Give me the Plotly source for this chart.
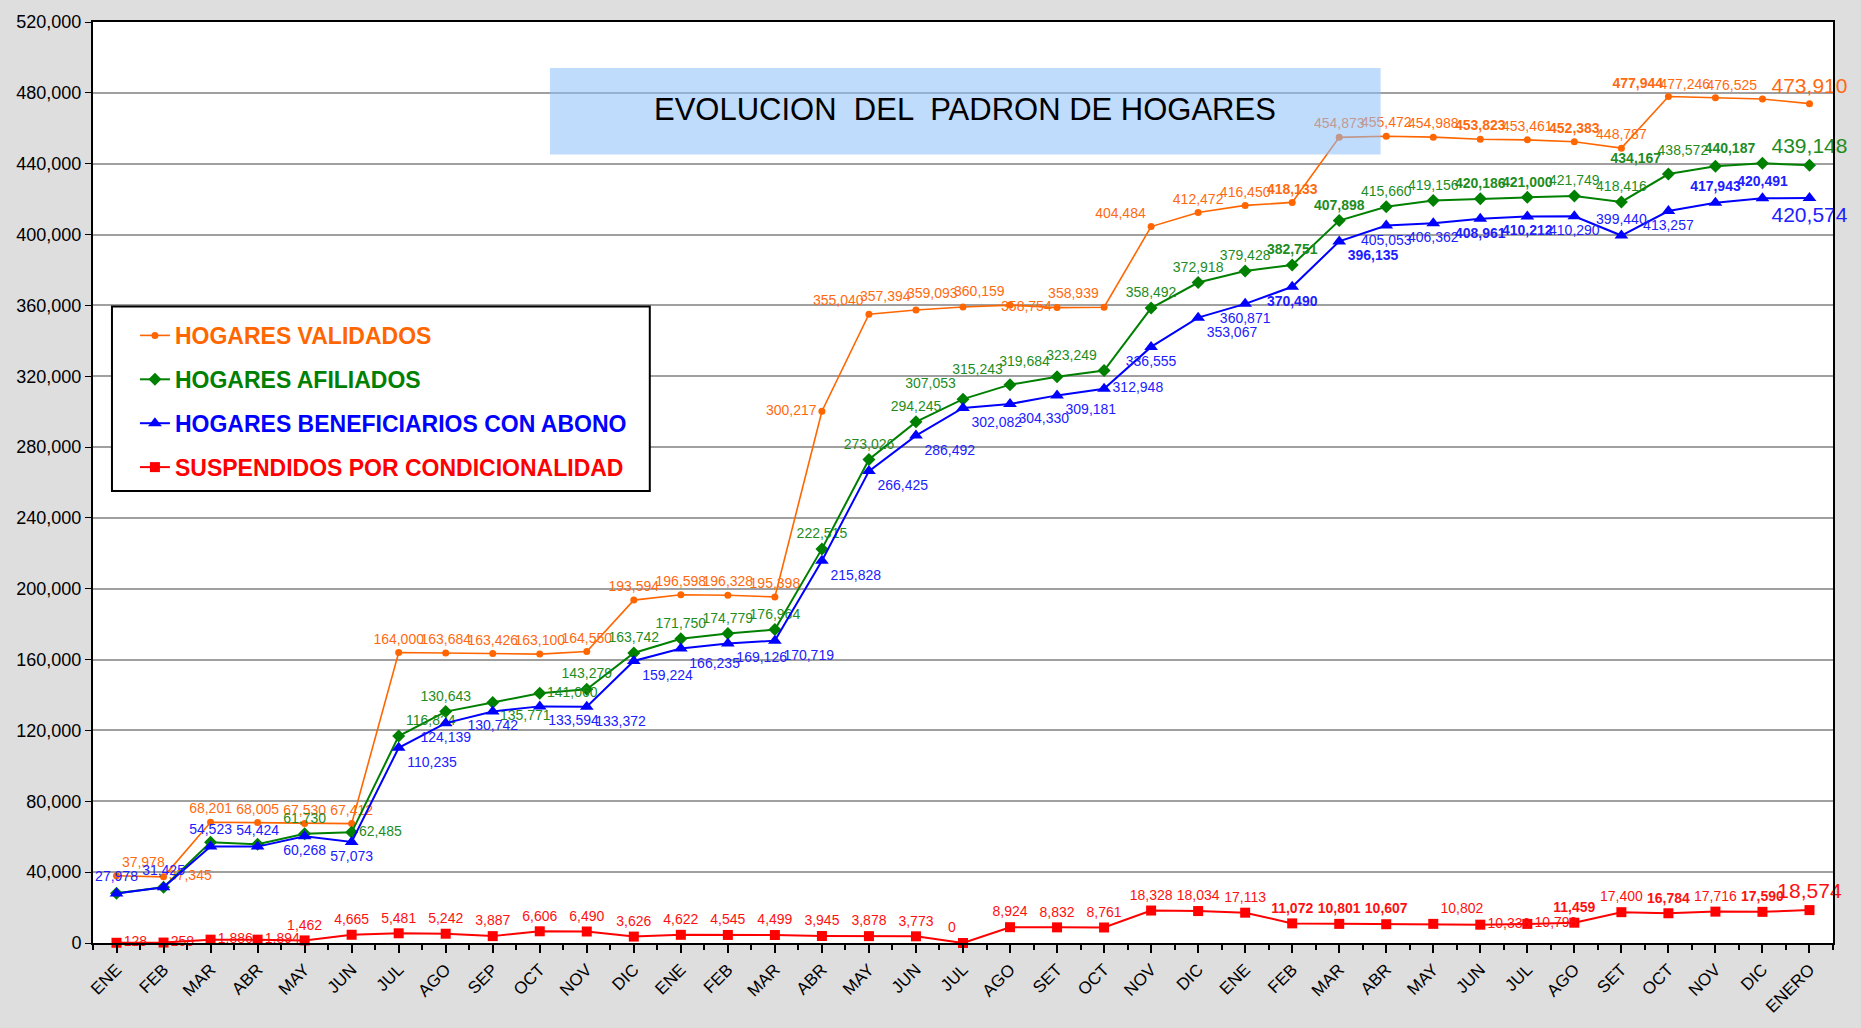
import plotly.graph_objects as go

months = ["ENE", "FEB", "MAR", "ABR", "MAY", "JUN", "JUL", "AGO", "SEP", "OCT", "NOV", "DIC",
          "ENE", "FEB", "MAR", "ABR", "MAY", "JUN", "JUL", "AGO", "SET", "OCT", "NOV", "DIC",
          "ENE", "FEB", "MAR", "ABR", "MAY", "JUN", "JUL", "AGO", "SET", "OCT", "NOV", "DIC",
          "ENERO"]

validados = [37978, 37345, 68201, 68005, 67530, 67412, 164000, 163684, 163426, 163100, 164550, 193594,
             196598, 196328, 195398, 300217, 355040, 357394, 359093, 360159, 358754, 358939, 404484, 412472,
             416450, 418133, 454873, 455472, 454988, 453823, 453461, 452383, 448787, 477944, 477246, 476525,
             473910]

afiliados = [28050, 31500, 56870, 55780, 61730, 62485, 116824, 130643, 135771, 141060, 143279, 163742,
             171750, 174779, 176964, 222515, 273026, 294245, 307053, 315243, 319684, 323249, 358492, 372918,
             379428, 382751, 407898, 415660, 419156, 420186, 421000, 421749, 418416, 434167, 438572, 440187,
             439148]

beneficiarios = [27978, 31425, 54523, 54424, 60268, 57073, 110235, 124139, 130742, 133594, 133372, 159224,
                 166235, 169126, 170719, 215828, 266425, 286492, 302082, 304330, 309181, 312948, 336555, 353067,
                 360871, 370490, 396135, 405053, 406362, 408961, 410212, 410290, 399440, 413257, 417943, 420491,
                 420574]

suspendidos = [128, 258, 1886, 1894, 1462, 4665, 5481, 5242, 3887, 6606, 6490, 3626,
               4622, 4545, 4499, 3945, 3878, 3773, 0, 8924, 8832, 8761, 18328, 18034,
               17113, 11072, 10801, 10607, 10802, 10336, 10798, 11459, 17400, 16784, 17716, 17590,
               18574]

series_names = ["HOGARES VALIDADOS", "HOGARES AFILIADOS", "HOGARES BENEFICIARIOS CON ABONO",
                "SUSPENDIDOS POR CONDICIONALIDAD"]
colors = ["#FF6600", "#008000", "#0000FF", "#FF0000"]
label_colors = ["#FF6A10", "#1E8C1E", "#2020FF", "#FF1010"]
symbols = ["circle", "diamond", "triangle-up", "square"]
msizes = [7, 10, 12, 10]
lwidths = [1.6, 2, 2, 2]

# labels drawn in bold / labels not shown in the original chart
bold_idx = [
    [25, 29, 31, 33],
    [25, 26, 29, 30, 33, 35],
    [25, 26, 29, 30, 34, 35],
    [25, 26, 27, 31, 33, 35],
]
hidden_idx = [[], [0, 1, 2, 3], [], []]

n = len(months)
x = list(range(n))

pos_orange = ["top center"] * n
pos_orange[0] = "top right"
pos_orange[1] = "middle right"
pos_orange[15] = "middle left"
for i in [16, 17, 18, 19, 21, 22, 33, 34, 35]:
    pos_orange[i] = "top left"
pos_orange[20] = "middle left"

pos_green = ["top center"] * n
pos_green[5] = "middle right"
pos_green[6] = "top right"
pos_green[8] = "bottom right"
pos_green[9] = "middle right"
for i in [18, 19, 20, 21, 33, 34, 35]:
    pos_green[i] = "top left"

pos_blue = ["bottom right"] * n
for i in [0, 1, 2, 3, 32, 34, 35]:
    pos_blue[i] = "top center"
for i in [4, 5, 7, 8, 22, 24, 25, 27, 28, 29, 30, 31, 33, 36]:
    pos_blue[i] = "bottom center"
pos_blue[21] = "middle right"

pos_red = ["top center"] * n
for i in [0, 1, 2, 3, 29, 30]:
    pos_red[i] = "middle right"
pos_red[18] = "top left"
pos_red[28] = "top right"

positions = [pos_orange, pos_green, pos_blue, pos_red]
all_values = [validados, afiliados, beneficiarios, suspendidos]

label_font = "Liberation Sans Narrow, Arial Narrow, Liberation Sans, Arial, sans-serif"

fig = go.Figure()
for k in range(4):
    vals = all_values[k]
    texts = []
    for i, v in enumerate(vals):
        t = f"{v:,}"
        if i in bold_idx[k]:
            t = f"<b>{t}</b>"
        if i in hidden_idx[k]:
            t = ""
        texts.append(t)
    sizes = [14] * n
    sizes[-1] = 21
    fig.add_trace(go.Scatter(
        x=x, y=vals, mode="lines+markers+text",
        name=f"<span style='color:{colors[k]}'><b>{series_names[k]}</b></span>",
        legendgroup=f"g{k}",
        line=dict(color=colors[k], width=lwidths[k]),
        marker=dict(symbol=symbols[k], size=msizes[k], color=colors[k]),
        text=texts, textposition=positions[k],
        textfont=dict(family=label_font, size=sizes, color=label_colors[k]),
        cliponaxis=False,
    ))

fig.update_layout(
    width=1861, height=1028,
    margin=dict(l=93, r=28, t=19, b=84),
    paper_bgcolor="#dedede",
    plot_bgcolor="#ffffff",
    font=dict(family="Liberation Sans, Arial, sans-serif", color="#000000"),
    showlegend=True,
    legend=dict(
        x=0.0241, y=0.683, xanchor="left", yanchor="top",
        bgcolor="rgba(0,0,0,0)", borderwidth=0,
        font=dict(family="Liberation Sans, Arial, sans-serif", size=23),
        tracegroupgap=11,
    ),
    xaxis=dict(
        range=[-0.5, n - 0.5],
        tickmode="array", tickvals=x, ticktext=months, tickangle=-45,
        tickfont=dict(size=17, color="#000000"),
        ticks="outside", ticklen=8, tickwidth=1.5, tickcolor="#000000",
        minor=dict(tickmode="array", tickvals=[i + 0.5 for i in range(-1, n)],
                   ticks="outside", ticklen=5, tickwidth=1.5, tickcolor="#000000"),
        showgrid=False, zeroline=False,
        showline=True, linecolor="#000000", linewidth=2, mirror=True,
    ),
    yaxis=dict(
        range=[0, 520000], dtick=40000, tick0=0, tickformat=",",
        tickfont=dict(size=18, color="#000000"),
        ticks="outside", ticklen=6, tickcolor="#000000",
        showgrid=True, gridcolor="#a0a0a0", gridwidth=2,
        zeroline=False,
        showline=True, linecolor="#000000", linewidth=2, mirror=True,
    ),
    shapes=[
        dict(type="rect", xref="paper", yref="paper",
             x0=0.0109, x1=0.320, y0=0.4908, y1=0.691,
             fillcolor="#ffffff", line=dict(color="#000000", width=2), layer="above"),
        dict(type="rect", xref="paper", yref="paper",
             x0=0.2626, x1=0.740, y0=0.856, y1=0.950,
             fillcolor="rgba(140,192,250,0.55)", line=dict(width=0), layer="above"),
    ],
    annotations=[dict(
        text="EVOLUCION  DEL  PADRON DE HOGARES",
        xref="paper", yref="paper", x=0.501, y=0.905,
        xanchor="center", yanchor="middle", showarrow=False,
        font=dict(family="Liberation Sans, Arial, sans-serif", size=31, color="#000000"),
    )],
)

fig.write_html(
    "out.html",
    config={"displayModeBar": False},
    post_script="document.body.style.margin='0';document.body.style.overflow='hidden';"
                "document.body.style.backgroundColor='#dedede';",
)
